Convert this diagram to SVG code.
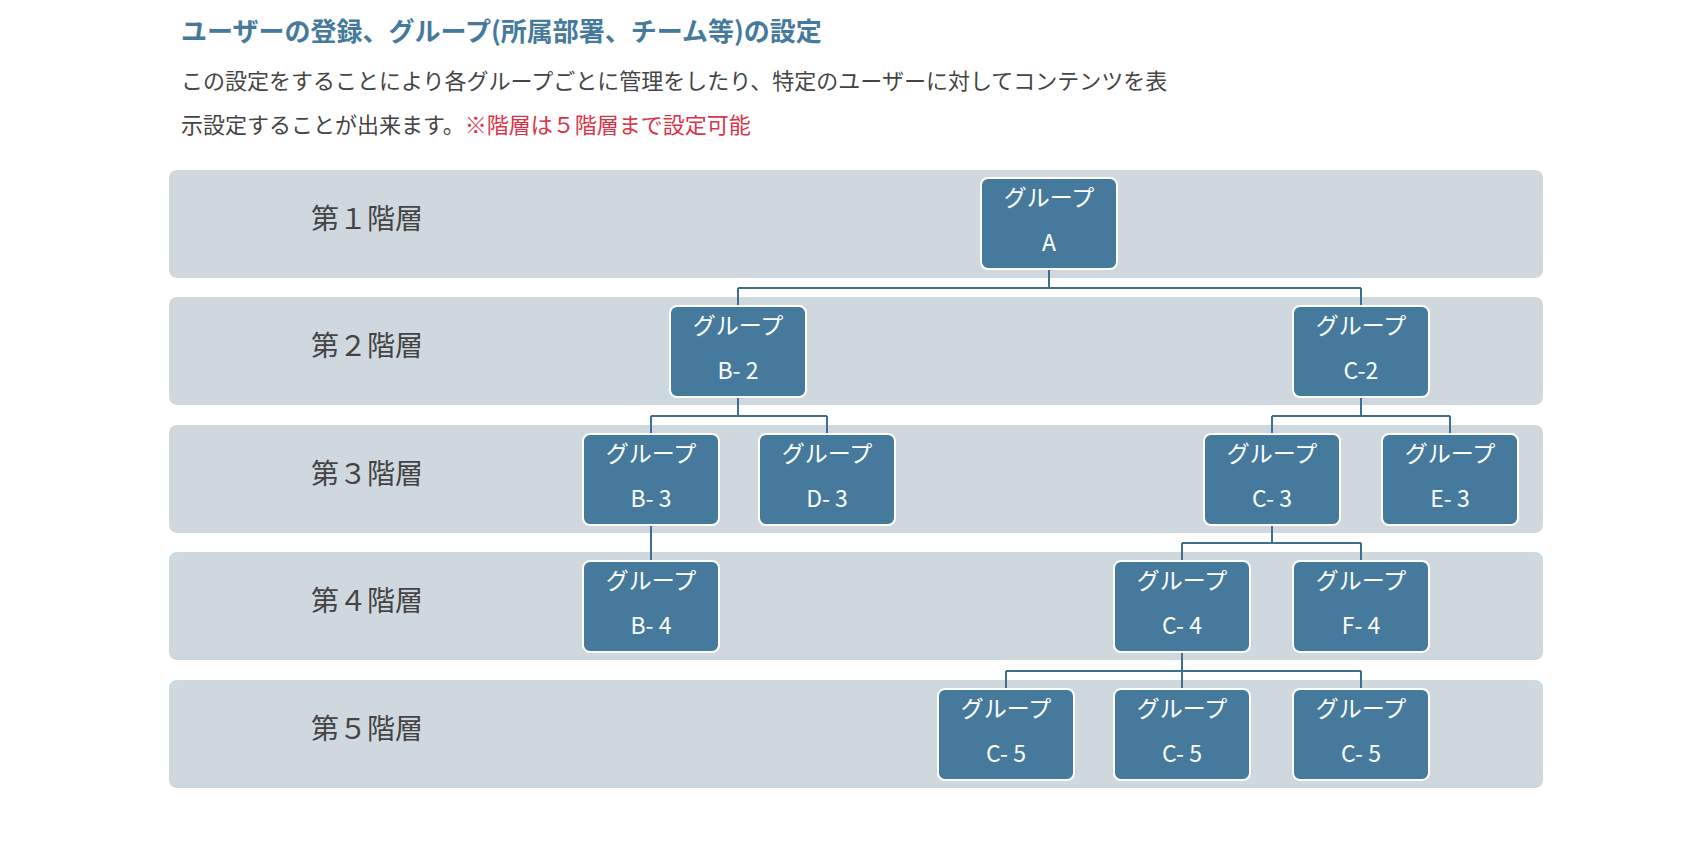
<svg xmlns="http://www.w3.org/2000/svg" width="1706" height="844" viewBox="0 0 1706 844">
<style>
text{font-family:"Noto Sans CJK JP","Noto Sans",sans-serif}
.band{fill:#d0d8df}
.lvl{font-size:28px;fill:#444}
.box{fill:#457a9d;stroke:#fff;stroke-width:2}
.bt{font-size:23px;fill:#fff;text-anchor:middle}
.c{fill:none;stroke:#3e6f8f;stroke-width:2}
</style>
<rect width="1706" height="844" fill="#fff"/>
<text x="181" y="41" font-size="26" font-weight="bold" fill="#457a9d">ユーザーの登録、グループ(所属部署、チーム等)の設定</text>
<text x="181" y="89" font-size="22" fill="#444">この設定をすることにより各グループごとに管理をしたり、特定のユーザーに対してコンテンツを表</text>
<text x="181" y="133" font-size="22" fill="#444">示設定することが出来ます。<tspan fill="#d9344a">※階層は５階層まで設定可能</tspan></text>
<g id="bands">
<rect class="band" x="169" y="170" width="1374" height="108" rx="8"/>
<rect class="band" x="169" y="297" width="1374" height="108" rx="8"/>
<rect class="band" x="169" y="425" width="1374" height="108" rx="8"/>
<rect class="band" x="169" y="552" width="1374" height="108" rx="8"/>
<rect class="band" x="169" y="680" width="1374" height="108" rx="8"/>
<text class="lvl" x="311" y="229">第１階層</text>
<text class="lvl" x="311" y="356">第２階層</text>
<text class="lvl" x="311" y="484">第３階層</text>
<text class="lvl" x="311" y="611">第４階層</text>
<text class="lvl" x="311" y="739">第５階層</text>
</g>
<g id="connectors">
<path class="c" d="M1049 269V288M738 288H1361M738 288V306M1361 288V306"/>
<path class="c" d="M738 397V416M651 416H827M651 416V434M827 416V434"/>
<path class="c" d="M1361 397V416M1272 416H1450M1272 416V434M1450 416V434"/>
<path class="c" d="M651 525V561"/>
<path class="c" d="M1272 525V543M1182 543H1361M1182 543V561M1361 543V561"/>
<path class="c" d="M1182 652V671M1006 671H1361M1006 671V689M1182 671V689M1361 671V689"/>
</g>
<g id="A"><rect class="box" x="981" y="178" width="136" height="91" rx="7"/><text class="bt" x="1049" y="206">グループ</text><text class="bt" x="1049" y="251">A</text></g>
<g id="B2"><rect class="box" x="670" y="306" width="136" height="91" rx="7"/><text class="bt" x="738" y="334">グループ</text><text class="bt" x="738" y="379">B- 2</text></g>
<g id="C2"><rect class="box" x="1293" y="306" width="136" height="91" rx="7"/><text class="bt" x="1361" y="334">グループ</text><text class="bt" x="1361" y="379">C-2</text></g>
<g id="B3"><rect class="box" x="583" y="434" width="136" height="91" rx="7"/><text class="bt" x="651" y="462">グループ</text><text class="bt" x="651" y="507">B- 3</text></g>
<g id="D3"><rect class="box" x="759" y="434" width="136" height="91" rx="7"/><text class="bt" x="827" y="462">グループ</text><text class="bt" x="827" y="507">D- 3</text></g>
<g id="C3"><rect class="box" x="1204" y="434" width="136" height="91" rx="7"/><text class="bt" x="1272" y="462">グループ</text><text class="bt" x="1272" y="507">C- 3</text></g>
<g id="E3"><rect class="box" x="1382" y="434" width="136" height="91" rx="7"/><text class="bt" x="1450" y="462">グループ</text><text class="bt" x="1450" y="507">E- 3</text></g>
<g id="B4"><rect class="box" x="583" y="561" width="136" height="91" rx="7"/><text class="bt" x="651" y="589">グループ</text><text class="bt" x="651" y="634">B- 4</text></g>
<g id="C4"><rect class="box" x="1114" y="561" width="136" height="91" rx="7"/><text class="bt" x="1182" y="589">グループ</text><text class="bt" x="1182" y="634">C- 4</text></g>
<g id="F4"><rect class="box" x="1293" y="561" width="136" height="91" rx="7"/><text class="bt" x="1361" y="589">グループ</text><text class="bt" x="1361" y="634">F- 4</text></g>
<g id="C5a"><rect class="box" x="938" y="689" width="136" height="91" rx="7"/><text class="bt" x="1006" y="717">グループ</text><text class="bt" x="1006" y="762">C- 5</text></g>
<g id="C5b"><rect class="box" x="1114" y="689" width="136" height="91" rx="7"/><text class="bt" x="1182" y="717">グループ</text><text class="bt" x="1182" y="762">C- 5</text></g>
<g id="C5c"><rect class="box" x="1293" y="689" width="136" height="91" rx="7"/><text class="bt" x="1361" y="717">グループ</text><text class="bt" x="1361" y="762">C- 5</text></g>
</svg>
